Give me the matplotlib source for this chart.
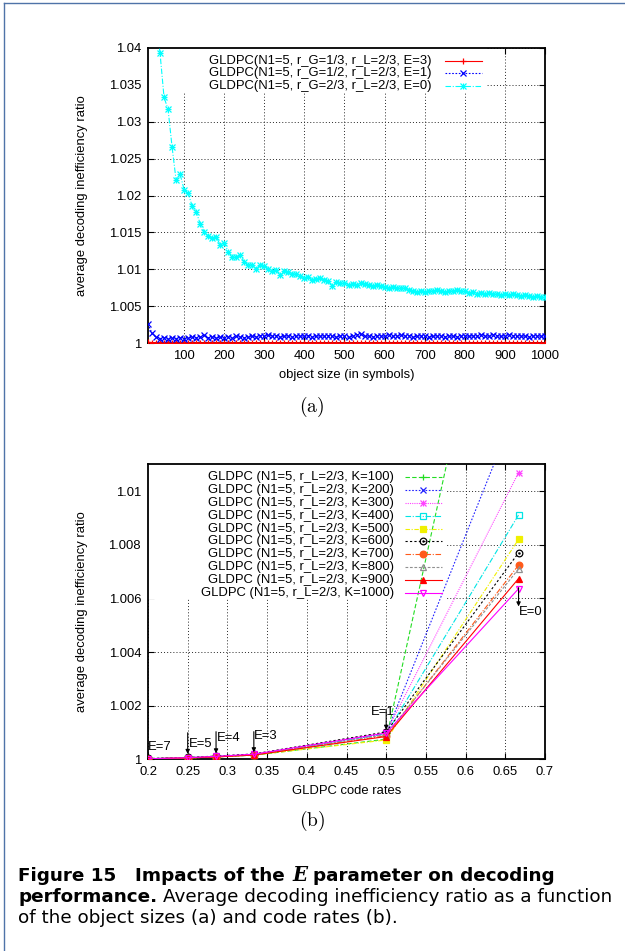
import matplotlib
matplotlib.use("Agg")
import matplotlib.pyplot as plt
from matplotlib.patches import Rectangle
from matplotlib.lines import Line2D
import numpy as np

plt.rcParams['font.family'] = ['Liberation Sans', 'DejaVu Sans']
plt.rcParams['mathtext.fontset'] = 'cm'

# ---- data, plot (a): decoding inefficiency vs object size ----
sizes = list(range(10, 1001, 10))

ineff_E3 = [1.0001, 1.00006, 1.00004, 1.00003, 1.00003, 1.00002, 1.00003, 1.00002, 1.00002, 1.00003,
            1.00002, 1.00002, 1.00003, 1.00002, 1.00002, 1.00002, 1.00003, 1.00002, 1.00002, 1.00002,
            1.00002, 1.00003, 1.00002, 1.00002, 1.00002, 1.00002, 1.00002, 1.00003, 1.00002, 1.00002,
            1.00002, 1.00002, 1.00002, 1.00002, 1.00003, 1.00002, 1.00002, 1.00002, 1.00002, 1.00002,
            1.00002, 1.00002, 1.00002, 1.00003, 1.00002, 1.00002, 1.00002, 1.00002, 1.00002, 1.00002,
            1.00002, 1.00002, 1.00002, 1.00002, 1.00002, 1.00003, 1.00002, 1.00002, 1.00002, 1.00002,
            1.00002, 1.00002, 1.00002, 1.00002, 1.00002, 1.00002, 1.00002, 1.00002, 1.00003, 1.00002,
            1.00002, 1.00002, 1.00002, 1.00002, 1.00002, 1.00002, 1.00002, 1.00002, 1.00002, 1.00002,
            1.00002, 1.00002, 1.00003, 1.00002, 1.00002, 1.00002, 1.00002, 1.00002, 1.00002, 1.00002,
            1.00002, 1.00002, 1.00002, 1.00002, 1.00002, 1.00002, 1.00002, 1.00002, 1.00002, 1.00002]

ineff_E1 = [1.0026, 1.0013, 1.0008, 1.0006, 1.0007, 1.0006, 1.0007, 1.0006, 1.0007, 1.0006,
            1.0007, 1.0008, 1.0007, 1.0008, 1.0011, 1.0007, 1.0008, 1.0007, 1.0008, 1.0007,
            1.0008, 1.0007, 1.0009, 1.0008, 1.0007, 1.0008, 1.0009, 1.0008, 1.0010, 1.0009,
            1.0011, 1.0009, 1.0010, 1.0008, 1.0009, 1.0010, 1.0008, 1.0009, 1.0010, 1.0009,
            1.0010, 1.0008, 1.0009, 1.0010, 1.0009, 1.0010, 1.0009, 1.0008, 1.0010, 1.0009,
            1.0008, 1.0009, 1.0011, 1.0012, 1.0010, 1.0009, 1.0008, 1.0009, 1.0010, 1.0009,
            1.0011, 1.0009, 1.0010, 1.0011, 1.0009, 1.0010, 1.0008, 1.0009, 1.0010, 1.0009,
            1.0008, 1.0009, 1.0010, 1.0009, 1.0008, 1.0010, 1.0009, 1.0008, 1.0009, 1.0010,
            1.0009, 1.0010, 1.0009, 1.0011, 1.0010, 1.0009, 1.0011, 1.0010, 1.0009, 1.0010,
            1.0011, 1.0010, 1.0009, 1.0010, 1.0009, 1.0008, 1.0009, 1.0010, 1.0009, 1.0010]

ineff_E0 = [1.0600, 1.0500, 1.0440, 1.0393, 1.0333, 1.0317, 1.0266, 1.0221, 1.0229, 1.0208,
            1.0203, 1.0186, 1.0178, 1.0162, 1.0151, 1.0145, 1.0142, 1.0144, 1.0133, 1.0136,
            1.0124, 1.0117, 1.0116, 1.0119, 1.0110, 1.0106, 1.0106, 1.0101, 1.0106, 1.0104,
            1.0101, 1.0098, 1.0099, 1.0092, 1.0097, 1.0096, 1.0093, 1.0094, 1.0091, 1.0088,
            1.0089, 1.0086, 1.0087, 1.0088, 1.0085, 1.0084, 1.0077, 1.0083, 1.0082, 1.0081,
            1.0079, 1.0080, 1.0078, 1.0082, 1.0080, 1.0079, 1.0077, 1.0079, 1.0077, 1.0076,
            1.0075, 1.0076, 1.0074, 1.0075, 1.0074, 1.0072, 1.0070, 1.0069, 1.0070, 1.0069,
            1.0071, 1.0070, 1.0072, 1.0070, 1.0069, 1.0071, 1.0070, 1.0072, 1.0070, 1.0070,
            1.0068, 1.0069, 1.0067, 1.0068, 1.0066, 1.0068, 1.0066, 1.0067, 1.0065, 1.0066,
            1.0065, 1.0066, 1.0065, 1.0064, 1.0065, 1.0064, 1.0063, 1.0064, 1.0063, 1.0063]

labels_a = ["GLDPC(N1=5, r_G=1/3, r_L=2/3, E=3)",
            "GLDPC(N1=5, r_G=1/2, r_L=2/3, E=1)",
            "GLDPC(N1=5, r_G=2/3, r_L=2/3, E=0)"]

# ---- data, plot (b): decoding inefficiency vs code rate ----
code_rates = [0.2, 0.25, 0.2857, 0.3333, 0.5, 0.6667]
e_values = ["E=7", "E=5", "E=4", "E=3", "E=1", "E=0"]
k_values = [100, 200, 300, 400, 500, 600, 700, 800, 900, 1000]

ineff_k = [
    [1.00002, 1.00005, 1.00009, 1.00015, 1.00075, 1.0232],   # K=100
    [1.00002, 1.00006, 1.00010, 1.00017, 1.00095, 1.0133],   # K=200
    [1.00002, 1.00006, 1.00010, 1.00018, 1.00100, 1.01069],  # K=300
    [1.00002, 1.00006, 1.00010, 1.00017, 1.00095, 1.00911],  # K=400
    [1.00002, 1.00005, 1.00009, 1.00016, 1.00072, 1.00820],  # K=500
    [1.00003, 1.00007, 1.00012, 1.00020, 1.00102, 1.00770],  # K=600
    [1.00002, 1.00005, 1.00009, 1.00016, 1.00088, 1.00724],  # K=700
    [1.00002, 1.00006, 1.00010, 1.00017, 1.00092, 1.00710],  # K=800
    [1.00002, 1.00005, 1.00009, 1.00016, 1.00085, 1.00674],  # K=900
    [1.00002, 1.00006, 1.00011, 1.00019, 1.00098, 1.00636],  # K=1000
]

# styles for plot (b), gnuplot-like
colors_b = ['#22dd22', '#2222ff', '#ff44ff', '#00e5e5', '#f0f000',
            '#000000', '#ff5a1a', '#909090', '#ff0000', '#ff00ff']
styles_b = [(0, (4, 2)), (0, (1.5, 1.5)), (0, (1, 1)), (0, (5, 1.5, 1, 1.5)), (0, (4, 1.5, 1, 1.5)),
            (0, (2, 2)), (0, (5, 1.5, 1, 1.5)), (0, (2.5, 1.5)), '-', '-']
markers_b = ['+', 'x', 'star', 's', 's', 'o', 'o', '^', '^', 'v']
filled_b = [True, True, True, False, True, False, True, False, True, False]

W, H = 625, 951
fig = plt.figure(figsize=(W / 100, H / 100), dpi=100)

FS = 9.4
MS = 4.8
grid_kw = dict(color='0.15', lw=0.7, ls=(0, (1, 2.2)))


def style_axes(ax):
    for s in ax.spines.values():
        s.set_linewidth(1.3)
    ax.tick_params(direction='in', top=True, right=True, length=4, width=0.8,
                   labelsize=FS, pad=5)


def marks(ax, x, y, mk, c, mfc, transform=None, z=3):
    # gnuplot star = plus and cross on top of each other
    kw = dict(ls='none', ms=MS, mew=0.9, mec=c, mfc=mfc, zorder=z)
    if transform is not None:
        kw['transform'] = transform
    if mk == 'star':
        ax.plot(x, y, marker='+', **kw)
        ax.plot(x, y, marker='x', **dict(kw, ms=MS * 0.8))
    else:
        ax.plot(x, y, marker=mk, **kw)


# ---------------- plot (a) ----------------
ax1 = fig.add_axes([148 / W, 1 - 343 / H, 397 / W, 295 / H])
ax1.set_xlim(10, 1000)
ax1.set_ylim(1, 1.04)
ax1.set_xticks(range(100, 1001, 100))
ax1.set_yticks([1, 1.005, 1.01, 1.015, 1.02, 1.025, 1.03, 1.035, 1.04])
ax1.set_yticklabels(["1", "1.005", "1.01", "1.015", "1.02", "1.025", "1.03", "1.035", "1.04"])
ax1.grid(True, zorder=0, **grid_kw)
ax1.set_axisbelow(True)
style_axes(ax1)

# opaque key box
ax1.add_patch(Rectangle((0, 0.85), 0.855, 0.15, transform=ax1.transAxes,
                        facecolor='white', edgecolor='none', zorder=1.5))

series_a = [(ineff_E3, 'red', '-', '+'),
            (ineff_E1, 'blue', (0, (1.5, 1.5)), 'x'),
            (ineff_E0, 'cyan', (0, (5, 1.5, 1, 1.5)), 'star')]
for i, (vals, c, ls, mk) in enumerate(series_a):
    ax1.plot(sizes, vals, color=c, ls=ls, lw=0.8, zorder=3)
    marks(ax1, sizes, vals, mk, c, c)
    fy = 0.957 - 0.043 * i
    ax1.text(0.7146, fy, labels_a[i], transform=ax1.transAxes, ha='right', va='center',
             fontsize=FS, zorder=4)
    ax1.add_line(Line2D([0.748, 0.841], [fy, fy], transform=ax1.transAxes, color=c, ls=ls,
                        lw=0.8, zorder=4))
    marks(ax1, [0.7945], [fy], mk, c, c, transform=ax1.transAxes, z=4)

ax1.set_xlabel("object size (in symbols)", fontsize=FS, labelpad=5)
ax1.set_ylabel("average decoding inefficiency ratio", fontsize=FS, labelpad=15)

# ---------------- plot (b) ----------------
ax2 = fig.add_axes([148 / W, 1 - 759.3 / H, 397 / W, 295 / H])
ax2.set_xlim(0.2, 0.7)
ax2.set_ylim(1, 1.011)
xt = [0.2, 0.25, 0.3, 0.35, 0.4, 0.45, 0.5, 0.55, 0.6, 0.65, 0.7]
ax2.set_xticks(xt)
ax2.set_xticklabels([("%g" % v) for v in xt])
ax2.set_yticks([1, 1.002, 1.004, 1.006, 1.008, 1.01])
ax2.set_yticklabels(["1", "1.002", "1.004", "1.006", "1.008", "1.01"])
ax2.grid(True, zorder=0, **grid_kw)
ax2.set_axisbelow(True)
style_axes(ax2)

ax2.add_patch(Rectangle((0, 0.545), 0.752, 0.455, transform=ax2.transAxes,
                        facecolor='white', edgecolor='none', zorder=1.5))

for i, k in enumerate(k_values):
    c = colors_b[i]
    mfc = c if filled_b[i] else 'none'
    ax2.plot(code_rates, ineff_k[i], color=c, ls=styles_b[i], lw=0.8, zorder=3)
    marks(ax2, code_rates, ineff_k[i], markers_b[i], c, mfc)
    if k == 600:
        ax2.plot(code_rates, ineff_k[i], ls='none', marker='.', ms=1.5, color=c, zorder=3)
    lab = "GLDPC (N1=5, r_L=2/3, K=%d)" % k
    fy = 0.957 - 0.0437 * i
    ax2.text(0.6196, fy, lab, transform=ax2.transAxes, ha='right', va='center',
             fontsize=FS, zorder=4)
    ax2.add_line(Line2D([0.647, 0.740], [fy, fy], transform=ax2.transAxes, color=c,
                        ls=styles_b[i], lw=0.8, zorder=4))
    marks(ax2, [0.6935], [fy], markers_b[i], c, mfc, transform=ax2.transAxes, z=4)
    if k == 600:
        ax2.plot([0.6935], [fy], transform=ax2.transAxes, ls='none', marker='.', ms=1.5,
                 color=c, zorder=4)

# E annotations: label position and arrow (start y, end y) at the code rate
ann_text_pos = [(0.2, 1.00047), (0.2517, 1.00057), (0.2862, 1.00078), (0.3336, 1.00087),
                (0.481, 1.00178), (0.6667, 1.0055)]
ann_arrows = [None, (1.00099, 1.0002), (1.00103, 1.00022), (1.00103, 1.00026),
              (1.00184, 1.0011), (1.0064, 1.0057)]
for i, lab in enumerate(e_values):
    tx, ty = ann_text_pos[i]
    ax2.text(tx, ty, lab, ha='left', va='center', fontsize=FS, zorder=5)
    if ann_arrows[i] is not None:
        y0, y1 = ann_arrows[i]
        ax2.annotate("", xy=(code_rates[i], y1), xytext=(code_rates[i], y0),
                     arrowprops=dict(arrowstyle='-|>', color='black', lw=0.8,
                                     mutation_scale=6, shrinkA=0, shrinkB=0), zorder=5)

ax2.set_xlabel("GLDPC code rates", fontsize=FS, labelpad=5)
ax2.set_ylabel("average decoding inefficiency ratio", fontsize=FS, labelpad=15)

# sub-figure tags
fig.text(312 / W, 1 - 407 / H, r"$\mathrm{(a)}$", ha='center', va='center', fontsize=14)
fig.text(312 / W, 1 - 821 / H, r"$\mathrm{(b)}$", ha='center', va='center', fontsize=14)

# frame lines of the page box
fig.add_artist(Line2D([4 / W, 4 / W], [0, 1 - 3 / H], color='#4f73a8', lw=1.0))
fig.add_artist(Line2D([4 / W, 1], [1 - 3 / H, 1 - 3 / H], color='#4f73a8', lw=1.0))

# ---------------- caption ----------------
renderer = fig.canvas.get_renderer()
CAP = 13.2
cap_font = ['DejaVu Sans']


def space_w(props):
    t1 = fig.text(0, 0, "x x", **props)
    t2 = fig.text(0, 0, "xx", **props)
    w = t1.get_window_extent(renderer).width - t2.get_window_extent(renderer).width
    t1.remove()
    t2.remove()
    return w


def draw_runs(x, y, runs):
    for txt, props, nsp in runs:
        x += nsp * space_w(props)
        t = fig.text(x / W, 1 - y / H, txt, va='baseline', ha='left', **props)
        x += t.get_window_extent(renderer).width


bold = dict(fontsize=CAP, family=cap_font, weight='bold')
norm = dict(fontsize=CAP, family=cap_font)
ital = dict(fontsize=CAP + 1, family=['DejaVu Serif'], weight='bold', style='italic')

draw_runs(18, 881, [("Figure 15", bold, 0), ("Impacts of the", bold, 3), ("E", ital, 1),
                    ("parameter on decoding", bold, 1)])
draw_runs(18, 902, [("performance.", bold, 0),
                    ("Average decoding inefficiency ratio as a function", norm, 1)])
draw_runs(18, 923, [("of the object sizes (a) and code rates (b).", norm, 0)])

fig.savefig("out.png", dpi=100)
